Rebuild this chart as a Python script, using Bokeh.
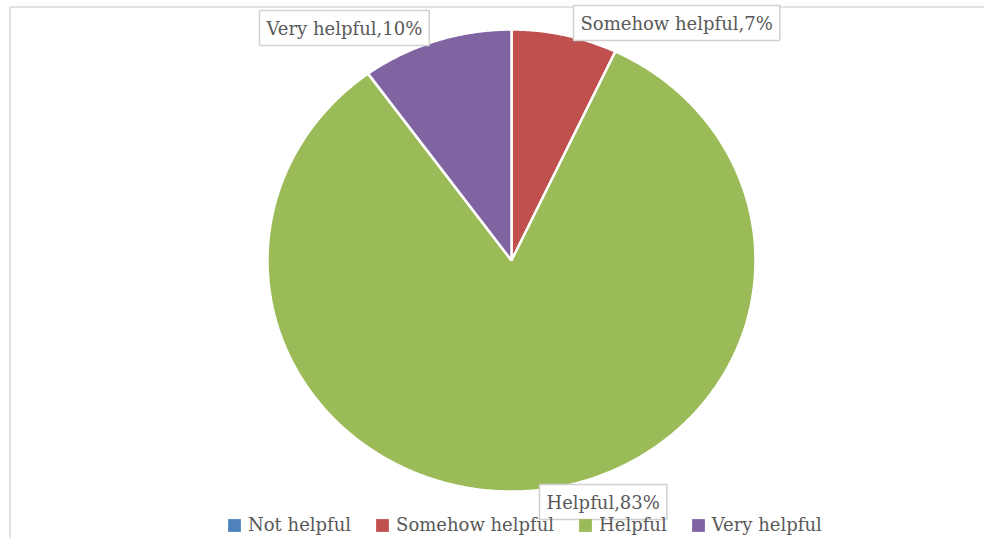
import numpy as np
from bokeh.plotting import figure
from bokeh.models import Range1d, Legend, LegendItem, Label, ColumnDataSource
from bokeh.embed import file_html
from bokeh.resources import INLINE

# ---- data ----
categories = ["Not helpful", "Somehow helpful", "Helpful", "Very helpful"]
percent = [0, 7, 83, 10]
colors = ["#4F81BD", "#C0504D", "#9BBB59", "#8064A2"]

# ---- layout (pixel coordinates) ----
W, H = 984, 538
cx, cy, rx, ry = 511, 260, 244, 231
FONT = "DejaVu Serif"
TXT = "#595959"

p = figure(width=W, height=H, output_backend="svg", toolbar_location=None,
           x_range=Range1d(0, W), y_range=Range1d(H, 0),
           min_border=0, outline_line_color=None)
p.axis.visible = False
p.grid.visible = False
p.background_fill_color = "white"
p.border_fill_color = "white"

# light frame lines
p.segment(x0=[9.5, 9.5], y0=[6.5, 6.5], x1=[W, 9.5], y1=[6.5, H],
          line_color="#E3E3E3", line_width=2)

# pie slices (elliptical) from data
total = float(sum(percent))
cum = np.concatenate([[0], np.cumsum(percent)]) / total * 2 * np.pi
xs, ys = [], []
for i in range(len(percent)):
    a0, a1 = cum[i], cum[i + 1]
    n = max(2, int((a1 - a0) / (2 * np.pi) * 720))
    t = np.linspace(a0, a1, n)
    xs.append([cx] + list(cx + rx * np.sin(t)))
    ys.append([cy] + list(cy - ry * np.cos(t)))
src = ColumnDataSource(dict(xs=xs, ys=ys, color=colors, cat=categories))
r_leg = p.patches("xs", "ys", source=src, fill_color="color", line_color=None)
r = p.patches("xs", "ys", source=src, fill_color="color", line_color="white",
              line_width=2.5)

# data labels
label_pos = {"Somehow helpful": (573, 22.5), "Helpful": (539, 501.5), "Very helpful": (259, 27.5)}
for c, v in zip(categories, percent):
    if c not in label_pos:
        continue
    x, y = label_pos[c]
    p.add_layout(Label(x=x, y=y, text=f"{c},{v}%", text_font=FONT,
                       text_font_size="18px", text_color=TXT,
                       text_align="left", text_baseline="middle",
                       background_fill_color="white",
                       border_line_color="#D0D0D0", border_line_width=1.5,
                       padding=7))

# legend
items = [LegendItem(label=c, renderers=[r_leg], index=i) for i, c in enumerate(categories)]
leg = Legend(items=items, orientation="horizontal", location=(226, 3),
             label_text_font=FONT, label_text_font_size="18px", label_text_color=TXT,
             glyph_width=16, glyph_height=16, label_standoff=6, spacing=23,
             padding=0, margin=0, border_line_color=None,
             background_fill_alpha=0, label_height=20)
p.add_layout(leg, "center")

open("out.html", "w").write(file_html(p, INLINE))
